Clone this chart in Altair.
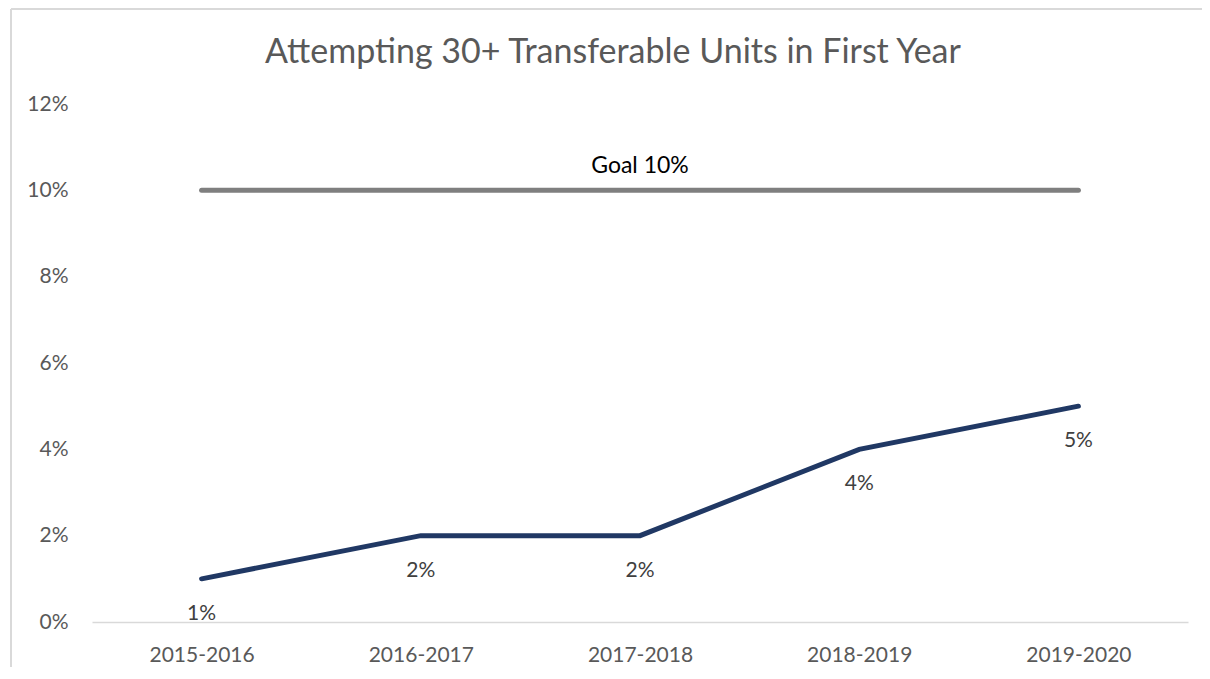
import altair as alt
import pandas as pd

title_text = "Attempting 30+ Transferable Units in First Year"
years = ["2015-2016", "2016-2017", "2017-2018", "2018-2019", "2019-2020"]
rates = [0.01, 0.02, 0.02, 0.04, 0.05]
goal = 0.10
goal_label = "Goal 10%"
goal_label_year = "2017-2018"
y_ticks = [0, 0.02, 0.04, 0.06, 0.08, 0.10, 0.12]

df = pd.DataFrame({"year": years, "rate": rates})
goal_df = pd.DataFrame({"year": years, "rate": [goal] * len(years)})
goal_text_df = pd.DataFrame({"year": [goal_label_year], "rate": [goal], "label": [goal_label]})
title_df = pd.DataFrame({"t": [title_text]})
one = pd.DataFrame({"a": [0]})

FONT = "Lato"
W, H = 1096, 518

x_enc = alt.X(
    "year:N",
    sort=years,
    scale=alt.Scale(type="point", padding=0.5),
    axis=alt.Axis(
        title=None, labelAngle=0, ticks=False, tickSize=0, labelPadding=22,
        domainColor="#d9d9d9", domainWidth=1.5, labelColor="#595959",
        labelFontSize=21, labelFont=FONT, grid=False,
    ),
)
y_enc = alt.Y(
    "rate:Q",
    scale=alt.Scale(domain=[0, 0.12], nice=False),
    axis=alt.Axis(
        title=None, values=y_ticks, format=".0%", ticks=False, tickSize=0,
        domain=False, grid=False, labelPadding=24, labelColor="#595959",
        labelFontSize=21, labelFont=FONT,
    ),
)

border_left = alt.Chart(one).mark_rule(color="#d9d9d9", strokeWidth=2).encode(
    x=alt.value(-81), y=alt.value(-95), y2=alt.value(H + 60)
)
border_top = alt.Chart(one).mark_rule(color="#d9d9d9", strokeWidth=2).encode(
    x=alt.value(-81), x2=alt.value(W + 14), y=alt.value(-95)
)

title = alt.Chart(title_df).mark_text(
    fontSize=34, font=FONT, color="#595959", baseline="alphabetic", align="center"
).encode(x=alt.value(521), y=alt.value(-41), text="t:N")

goal_line = alt.Chart(goal_df).mark_line(color="#7f7f7f", strokeWidth=5, strokeCap="round").encode(
    x=x_enc, y=y_enc
)
goal_text = alt.Chart(goal_text_df).mark_text(
    dy=-24, fontSize=23, font=FONT, color="#000000", baseline="middle"
).encode(x=alt.X("year:N", sort=years), y="rate:Q", text="label:N")

line = alt.Chart(df).mark_line(color="#203864", strokeWidth=5, strokeCap="round").encode(
    x=x_enc, y=y_enc
)
labels = alt.Chart(df).mark_text(
    dy=35, fontSize=21, font=FONT, color="#404040", baseline="middle"
).encode(x=alt.X("year:N", sort=years), y="rate:Q", text=alt.Text("rate:Q", format=".0%"))

chart = alt.layer(border_left, border_top, title, goal_line, goal_text, line, labels).properties(
    width=W,
    height=H,
    autosize=alt.AutoSizeParams(type="none"),
    padding={"left": 84, "top": 96, "right": 14, "bottom": 45},
).configure(background="white").configure_view(strokeWidth=0, stroke="transparent")

chart.save("out.html", embed_options={"renderer": "svg", "actions": False})
